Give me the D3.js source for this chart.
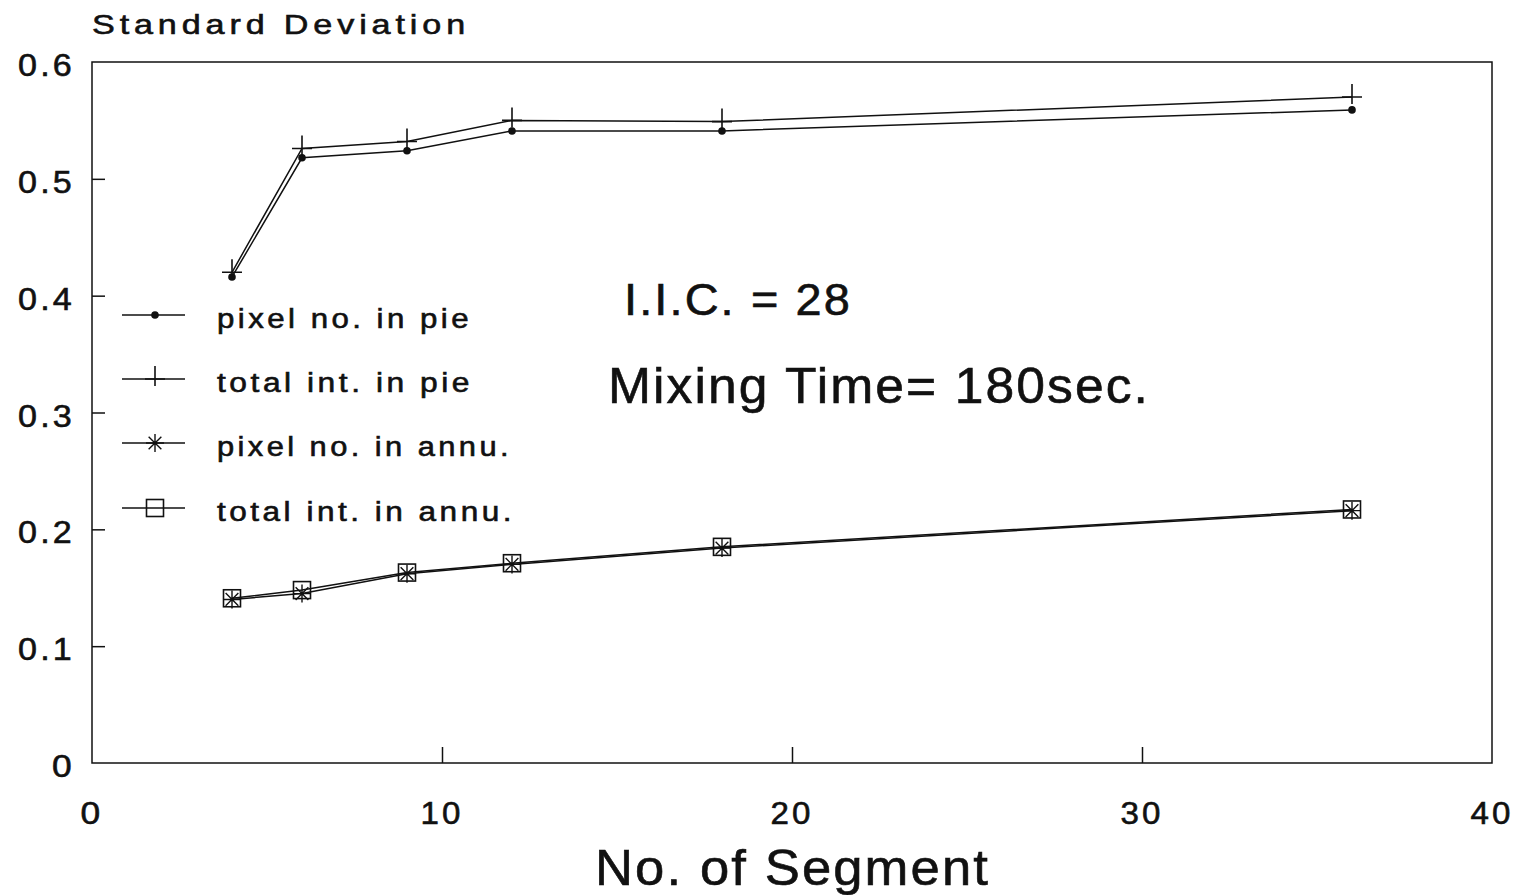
<!DOCTYPE html>
<html><head><meta charset="utf-8">
<script src="https://cdn.jsdelivr.net/npm/d3@7"></script>
<style>body{margin:0;background:#fff}svg{display:block}text{font-family:"Liberation Sans",Arial,sans-serif;fill:#111;stroke:#111;stroke-width:0.6px}</style>
</head><body><svg id="c" width="1526" height="895"></svg>
<script>
const segments = [4, 6, 9, 12, 18, 36];
const pixelPie = [0.416, 0.518, 0.524, 0.541, 0.541, 0.559];
const totalPie = [0.420, 0.526, 0.532, 0.550, 0.549, 0.570];
const pixelAnnu = [0.140, 0.145, 0.162, 0.170, 0.184, 0.216];
const totalAnnu = [0.141, 0.148, 0.163, 0.171, 0.185, 0.217];
const seriesNames = ["pixel no. in pie","total int. in pie","pixel no. in annu.","total int. in annu."];
const markers = ["dot","plus","star","square"];
const xTicks = [0,10,20,30,40];
const yTicks = [0,0.1,0.2,0.3,0.4,0.5,0.6];

const svg = d3.select("#c");
const x = d3.scaleLinear().domain([0,40]).range([92,1492]);
const y = d3.scaleLinear().domain([0,0.6]).range([763,62]);

function fitText(sel, len, ls){
  sel.style("letter-spacing",(ls||0)+"px").attr("textLength",len).attr("lengthAdjust","spacingAndGlyphs"); return sel; }

// frame
svg.append("rect").attr("x",92).attr("y",62).attr("width",1400).attr("height",701)
  .attr("fill","none").attr("stroke","#111").attr("stroke-width",1.5);

// inward ticks
svg.append("g").attr("transform","translate(92,0)")
  .call(d3.axisRight(y).tickValues(yTicks.slice(1,-1)).tickSize(13).tickFormat(""))
  .call(g=>{g.select(".domain").remove();g.selectAll("line").attr("stroke","#111").attr("stroke-width",1.5);});
svg.append("g").attr("transform","translate(0,763)")
  .call(d3.axisTop(x).tickValues(xTicks.slice(1,-1)).tickSize(16).tickFormat(""))
  .call(g=>{g.select(".domain").remove();g.selectAll("line").attr("stroke","#111").attr("stroke-width",1.5);});

// tick labels
svg.append("g").selectAll("text").data(yTicks).join("text")
  .attr("x",d=>d===0?52:18).attr("y",d=>y(d)+14)
  .style("font-size","32px").style("letter-spacing","3px")
  .attr("textLength",d=>d===0?23:57).attr("lengthAdjust","spacingAndGlyphs")
  .text(d=>d===0?"0":d3.format(".1f")(d));
svg.append("g").selectAll("text").data(xTicks).join("text")
  .attr("x",d=>x(d)-(d===0?11.5:21.5)).attr("y",824)
  .style("font-size","32px").style("letter-spacing","3px")
  .attr("textLength",d=>d===0?23:43).attr("lengthAdjust","spacingAndGlyphs")
  .text(d=>d);

fitText(svg.append("text").attr("x",92).attr("y",34).style("font-size","28px").text("Standard Deviation"),378,4);
fitText(svg.append("text").attr("x",595).attr("y",885).style("font-size","50px").text("No. of Segment"),395,2);
fitText(svg.append("text").attr("x",624).attr("y",315).style("font-size","44px").text("I.I.C. = 28"),228,2);
fitText(svg.append("text").attr("x",608).attr("y",403).style("font-size","50px").text("Mixing Time= 180sec."),542,2);

function drawMarker(g, type, cx, cy){
  if(type==="dot"){
    g.append("circle").attr("cx",cx).attr("cy",cy).attr("r",3.8).attr("fill","#111");
  } else if(type==="plus"){
    g.append("path").attr("d",`M${cx-10},${cy}H${cx+10}M${cx},${cy-13}V${cy+7}`).attr("stroke","#111").attr("stroke-width",1.6).attr("fill","none");
  } else if(type==="star"){
    const r=9; let d="";
    for(let i=0;i<4;i++){const a=i*Math.PI/4;d+=`M${cx-r*Math.cos(a)},${cy-r*Math.sin(a)}L${cx+r*Math.cos(a)},${cy+r*Math.sin(a)}`;}
    g.append("path").attr("d",d).attr("stroke","#111").attr("stroke-width",1.4).attr("fill","none");
  } else {
    g.append("rect").attr("x",cx-8.5).attr("y",cy-8.5).attr("width",17).attr("height",17).attr("fill","none").attr("stroke","#111").attr("stroke-width",1.6);
  }
}

const data = [pixelPie,totalPie,pixelAnnu,totalAnnu];
const line = d3.line().x(d=>x(d[0])).y(d=>y(d[1]));
data.forEach((vals,i)=>{
  const pts = segments.map((s,j)=>[s,vals[j]]);
  svg.append("path").attr("d",line(pts)).attr("fill","none").attr("stroke","#111").attr("stroke-width",1.5);
  const g = svg.append("g");
  pts.forEach(p=>drawMarker(g,markers[i],x(p[0]),y(p[1])));
});

// legend
const legY = [315,379,443,508];
const legLen = [255,256,295,298];
seriesNames.forEach((n,i)=>{
  const g = svg.append("g");
  g.append("line").attr("x1",122).attr("x2",185).attr("y1",legY[i]).attr("y2",legY[i]).attr("stroke","#111").attr("stroke-width",1.4);
  drawMarker(g,markers[i],155,legY[i]);
  fitText(g.append("text").attr("x",217).attr("y",legY[i]+13).style("font-size","27px").text(n),legLen[i],3);
});
</script></body></html>
